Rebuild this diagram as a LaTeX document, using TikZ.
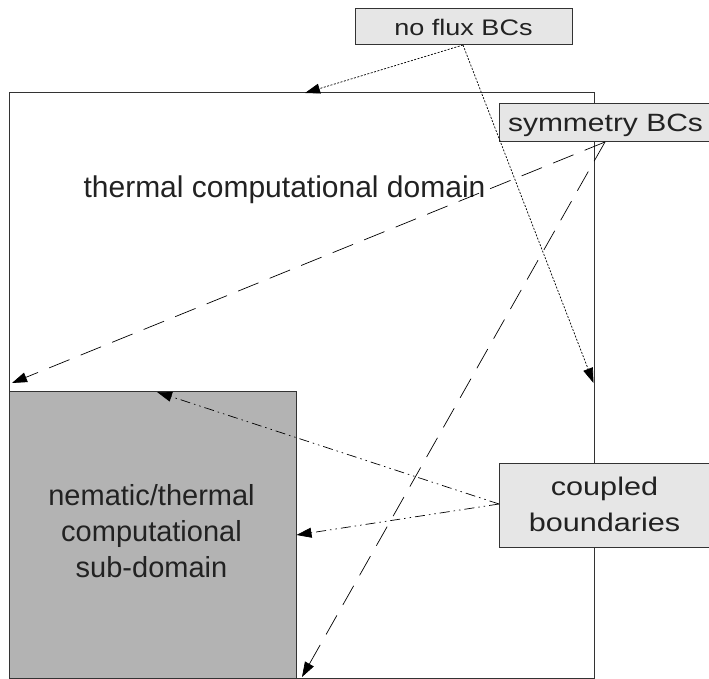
\documentclass[tikz,border=0pt]{standalone}
\usepackage{fontspec}
\setmainfont{Liberation Sans}
\newfontfamily\labfont[FakeStretch=1.2]{Liberation Sans}
\usetikzlibrary{arrows.meta}
\definecolor{lablue}{HTML}{E6E6E6}
\definecolor{subgray}{HTML}{B3B3B3}
\definecolor{edge}{HTML}{333333}
\definecolor{txt}{HTML}{222222}
\tikzset{
  domainbox/.style={draw=edge, line width=1pt, anchor=north west, inner sep=0pt, outer sep=0pt},
  labelbox/.style={draw=edge, line width=1pt, fill=lablue, anchor=north west, inner sep=0pt, outer sep=0pt},
  labtext/.style={text=txt, align=center, inner sep=0pt},
  tip/.style={-{Triangle[length=15pt,width=10pt]}},
  nfline/.style={tip, line width=0.7pt, dash pattern=on 2pt off 1.5pt},
  symline/.style={tip, line width=0.7pt, dash pattern=on 22pt off 12pt},
  cpline/.style={tip, line width=0.7pt, dash pattern=on 10pt off 4pt on 1.5pt off 4pt on 1.5pt off 4pt}
}
\begin{document}
\begin{tikzpicture}[x=1pt,y=-1pt]
\useasboundingbox (0,0) rectangle (709,679);
% domains
\node[domainbox, minimum width=585pt, minimum height=585pt] (outer) at (9,93) {};
\node[domainbox, fill=subgray, minimum width=287pt, minimum height=287pt] (sub) at (9,391) {};
\node[labtext, font=\fontsize{30}{36}\selectfont, anchor=base] (thermal) at (284.5,197) {thermal computational domain};
\node[labtext, font=\fontsize{29}{36}\selectfont, anchor=base] (nem) at (151.5,577) {nematic/thermal\\computational\\sub-domain};
% label boxes
\node[labelbox, minimum width=217pt, minimum height=36pt] (nf) at (355,9) {};
\node[labtext, font=\labfont\fontsize{22.5}{27}\selectfont, anchor=base] (nft) at (463.5,36) {no flux BCs};
\node[labelbox, minimum width=214pt, minimum height=38pt] (sym) at (499,104) {};
\node[labtext, font=\labfont\fontsize{25}{30}\selectfont, anchor=base] (symt) at (605.5,131.5) {symmetry BCs};
\node[labelbox, minimum width=214pt, minimum height=84pt] (cp) at (499,463) {};
\node[labtext, font=\labfont\fontsize{25.5}{36.5}\selectfont, anchor=base] (cpt) at (604.5,531.5) {coupled\\boundaries};
% arrow end points
\coordinate (e1) at (305,93);
\coordinate (e2) at (593.5,383);
\coordinate (e3) at (12,383);
\coordinate (e4) at (302,677);
\coordinate (e5) at (157,392);
\coordinate (e6) at (296.5,535);
\coordinate (s1) at (463,45);
\coordinate (s2) at (605,142);
\coordinate (s3) at (499,504);
% connectors
\draw[nfline] (s1) -- (e1);
\draw[nfline] (s1) -- (e2);
\draw[symline] (s2) -- (e3);
\draw[symline] (s2) -- (e4);
\draw[cpline] (s3) -- (e5);
\draw[cpline] (s3) -- (e6);
\end{tikzpicture}
\end{document}
